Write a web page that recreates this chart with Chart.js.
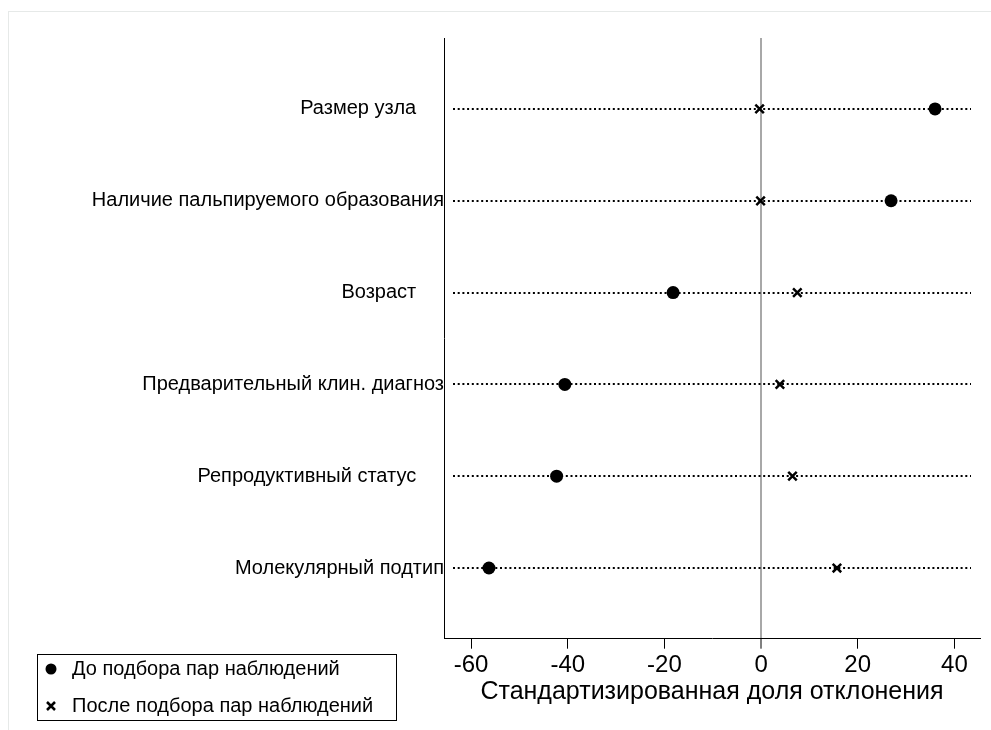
<!DOCTYPE html>
<html>
<head>
<meta charset="utf-8">
<script src="https://cdn.jsdelivr.net/npm/chart.js@4.4.0/dist/chart.umd.min.js"></script>
<style>
  html, body { margin: 0; padding: 0; background: #fff; }
  #chart { display: block; }
</style>
</head>
<body>
<canvas id="chart" width="991" height="730"></canvas>
<script>
// rows top to bottom; some original labels carry trailing spaces
const categories = [
  'Размер узла     ',
  'Наличие пальпируемого образования',
  'Возраст     ',
  'Предварительный клин. диагноз',
  'Репродуктивный статус     ',
  'Молекулярный подтип'
];
const beforeMatch = [36.0, 26.9, -18.2, -40.6, -42.3, -56.3];
const afterMatch = [-0.3, -0.1, 7.5, 3.9, 6.5, 15.7];
const xTicks = [-60, -40, -20, 0, 20, 40];
const seriesNames = ['До подбора пар наблюдений', 'После подбора пар наблюдений'];
const axisTitle = 'Стандартизированная доля отклонения';

const FONT = '"Liberation Sans", Arial, sans-serif';
Chart.defaults.font.family = FONT;
Chart.defaults.color = '#000';

const toPoints = vals => vals.map((v, i) => ({ x: v, y: i + 1 }));

// faint outer frame + dotted row guides
const guides = {
  id: 'guides',
  beforeDraw(chart) {
    const ctx = chart.ctx;
    ctx.save();
    ctx.strokeStyle = '#e6e9e8';
    ctx.lineWidth = 1;
    ctx.strokeRect(8.5, 11.5, chart.width + 20, chart.height + 20);
    ctx.restore();
  },
  beforeDatasetsDraw(chart) {
    const { ctx, chartArea, scales } = chart;
    ctx.save();
    ctx.strokeStyle = '#000';
    ctx.lineWidth = 2;
    ctx.setLineDash([2, 2.7]);
    categories.forEach((c, i) => {
      const py = Math.round(scales.y.getPixelForValue(i + 1));
      ctx.beginPath();
      ctx.moveTo(chartArea.left + 9, py);
      ctx.lineTo(chartArea.right - 9, py);
      ctx.stroke();
    });
    ctx.restore();
  }
};

// boxed legend at bottom left, like the Stata one
const boxLegend = {
  id: 'boxLegend',
  afterDraw(chart) {
    const ctx = chart.ctx;
    ctx.save();
    ctx.strokeStyle = '#000';
    ctx.lineWidth = 1;
    ctx.strokeRect(37.5, 654.5, 359, 66);
    ctx.font = '20px ' + FONT;
    ctx.textBaseline = 'middle';
    ctx.fillStyle = '#000';
    chart.data.datasets.forEach((ds, i) => {
      const cy = 669 + i * 37;
      const cx = 51;
      if (ds.pointStyle === 'circle') {
        ctx.beginPath();
        ctx.arc(cx, cy, 5.5, 0, Math.PI * 2);
        ctx.fill();
      } else {
        ctx.lineWidth = 2.5;
        ctx.beginPath();
        ctx.moveTo(cx - 4, cy - 4); ctx.lineTo(cx + 4, cy + 4);
        ctx.moveTo(cx + 4, cy - 4); ctx.lineTo(cx - 4, cy + 4);
        ctx.stroke();
      }
      ctx.fillText(ds.label, 72, cy);
    });
    ctx.restore();
  }
};

new Chart(document.getElementById('chart'), {
  type: 'scatter',
  data: {
    datasets: [
      {
        label: seriesNames[0],
        data: toPoints(beforeMatch),
        pointStyle: 'circle',
        pointRadius: 6.5,
        backgroundColor: '#000',
        borderColor: '#000',
        borderWidth: 0
      },
      {
        label: seriesNames[1],
        data: toPoints(afterMatch),
        pointStyle: 'crossRot',
        pointRadius: 6,
        backgroundColor: '#000',
        borderColor: '#000',
        borderWidth: 2.5
      }
    ]
  },
  options: {
    responsive: false,
    animation: false,
    layout: { padding: { left: 0, right: 11, top: 38, bottom: 0 } },
    plugins: {
      legend: { display: false },
      tooltip: { enabled: false }
    },
    scales: {
      x: {
        type: 'linear',
        min: -65.6,
        max: 45.3,
        afterBuildTicks: s => { s.ticks = xTicks.map(v => ({ value: v })); },
        afterFit: s => { s.height = 91.3; },
        grid: {
          color: c => (c.tick && c.tick.value === 0) ? '#a8a8a8' : 'rgba(0,0,0,0)',
          lineWidth: c => (c.tick && c.tick.value === 0) ? 2 : 1,
          tickColor: '#000',
          tickLength: 10,
          tickWidth: 1
        },
        border: { color: '#000', width: 1 },
        ticks: { font: { size: 24 }, color: '#000', padding: 2, maxRotation: 0, autoSkip: false },
        title: {
          display: true,
          text: axisTitle,
          font: { size: 25 },
          color: '#000',
          padding: { top: 0, bottom: 23 }
        }
      },
      y: {
        type: 'linear',
        reverse: true,
        min: 0.227,
        max: 6.77,
        afterBuildTicks: s => { s.ticks = categories.map((c, i) => ({ value: i + 1 })); },
        afterFit: s => { s.width = 444; },
        grid: { color: 'rgba(0,0,0,0)', drawTicks: false },
        border: { color: '#000', width: 1 },
        ticks: {
          callback: v => categories[v - 1],
          font: { size: 20 },
          color: '#000',
          padding: 0,
          autoSkip: false
        }
      }
    }
  },
  plugins: [guides, boxLegend]
});
</script>
</body>
</html>
